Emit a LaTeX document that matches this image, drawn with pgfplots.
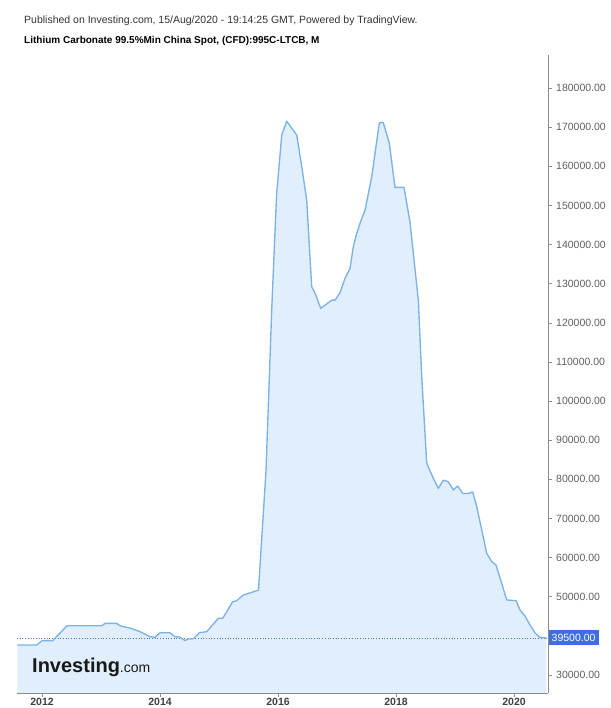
\documentclass[border=0pt]{standalone}
\usepackage{fontspec}
\setmainfont{Liberation Sans}
\usepackage{pgfplots}
\usepackage{pgfplotstable}
\pgfplotsset{compat=1.18}

\definecolor{areafill}{RGB}{224,239,251}
\definecolor{arealine}{RGB}{124,178,232}
\definecolor{axisgray}{RGB}{140,140,140}
\definecolor{ticktext}{RGB}{95,95,95}
\definecolor{pricebg}{RGB}{64,110,224}
\definecolor{priceline}{RGB}{85,115,200}

% Monthly spot price, CNY per tonne (time as decimal year)
\pgfplotstableread{
t        v
2011.583 37700
2011.915 37700
2012.000 38800
2012.181 38800
2012.424 42600
2013.012 42600
2013.068 43200
2013.266 43200
2013.322 42600
2013.492 42000
2013.661 41100
2013.831 39800
2013.915 39650
2014.000 40800
2014.169 40800
2014.254 39800
2014.339 39700
2014.424 38800
2014.475 39200
2014.564 39300
2014.666 40800
2014.792 41100
2014.988 44500
2015.063 44500
2015.232 48750
2015.300 49000
2015.412 50450
2015.669 51700
2015.797 82400
2015.893 123300
2015.975 152600
2016.063 168000
2016.147 171500
2016.317 168000
2016.402 159900
2016.486 151400
2016.571 129200
2016.627 127600
2016.724 123700
2016.797 124500
2016.910 125800
2016.966 125800
2017.051 127700
2017.136 131400
2017.220 133900
2017.276 139400
2017.334 142900
2017.390 145400
2017.475 148800
2017.588 157300
2017.717 171100
2017.785 171100
2017.886 165900
2017.983 154600
2018.136 154600
2018.237 145700
2018.378 125800
2018.436 106200
2018.520 84200
2018.547 83200
2018.632 80300
2018.717 77700
2018.802 79800
2018.886 79400
2018.971 77300
2019.046 78300
2019.131 76400
2019.225 76400
2019.300 76800
2019.368 73000
2019.453 67100
2019.537 61100
2019.622 59000
2019.695 58100
2019.792 53400
2019.876 49200
2020.034 49000
2020.102 46600
2020.186 45100
2020.271 42800
2020.356 40800
2020.441 39550
2020.542 39500
}\lithium

\begin{document}
\begin{tikzpicture}
\path[use as bounding box] (0pt,0pt) rectangle (610pt,708pt);

% header lines
\node[anchor=base west, inner sep=0pt, text=black!80,
      font=\fontsize{10.5}{12}\selectfont] at (24pt,684pt)
  {Published on Investing.com, 15/Aug/2020 - 19:14:25 GMT, Powered by TradingView.};
\node[anchor=base west, inner sep=0pt, text=black,
      font=\fontsize{10}{12}\selectfont\bfseries] at (24pt,664pt)
  {Lithium Carbonate 99.5\%Min China Spot, (CFD):995C-LTCB, M};

\begin{axis}[
  at={(17pt,15pt)}, anchor=south west,
  scale only axis, width=531pt, height=638pt,
  xmin=2011.576, xmax=2020.576,
  ymin=25420, ymax=188430,
  axis x line*=bottom, axis y line*=right,
  axis line style={draw=axisgray, line width=0.8pt, -},
  tick style={draw=axisgray, line width=0.6pt},
  tick align=outside, major tick length=4pt,
  xtick={2012,2014,2016,2018,2020},
  xticklabels={2012,2014,2016,2018,2020},
  ytick={30000,50000,60000,70000,80000,90000,100000,110000,120000,
         130000,140000,150000,160000,170000,180000},
  scaled y ticks=false,
  yticklabel style={/pgf/number format/fixed,
                    /pgf/number format/fixed zerofill,
                    /pgf/number format/precision=2,
                    /pgf/number format/1000 sep={},
                    /pgf/number format/assume math mode=true,
                    font=\fontsize{10.5}{12}\selectfont, text=ticktext,
                    anchor=west, inner sep=0pt, xshift=4pt},
  xticklabel style={font=\fontsize{10.5}{12}\selectfont\bfseries,
                    text=black!75, anchor=north, inner sep=0pt, yshift=-1pt},
]
  % filled area under the price
  \addplot[draw=none, fill=areafill] table[x=t, y=v]{\lithium} \closedcycle;
  % last-price reference line
  \addplot[priceline, dotted, line width=0.7pt]
    coordinates {(2011.576,39500) (2020.576,39500)};
  % price line
  \addplot[arealine, line width=1.35pt, line join=round] table[x=t, y=v]{\lithium};
  \coordinate (lastprice) at (axis cs:2020.576,39500);
\end{axis}

% last price tag on the scale
\node[anchor=west, fill=pricebg, text=white, inner xsep=3pt, inner ysep=0pt,
      minimum height=15pt, font=\fontsize{10.5}{12}\selectfont]
  at ([xshift=0.5pt]lastprice) {39500.00};

% watermark logo
\node[anchor=base west, inner sep=0pt, text=black!90] at (32pt,35pt)
  {{\fontsize{20}{20}\selectfont\bfseries Investing}{\fontsize{14}{14}\selectfont .com}};
\end{tikzpicture}
\end{document}
